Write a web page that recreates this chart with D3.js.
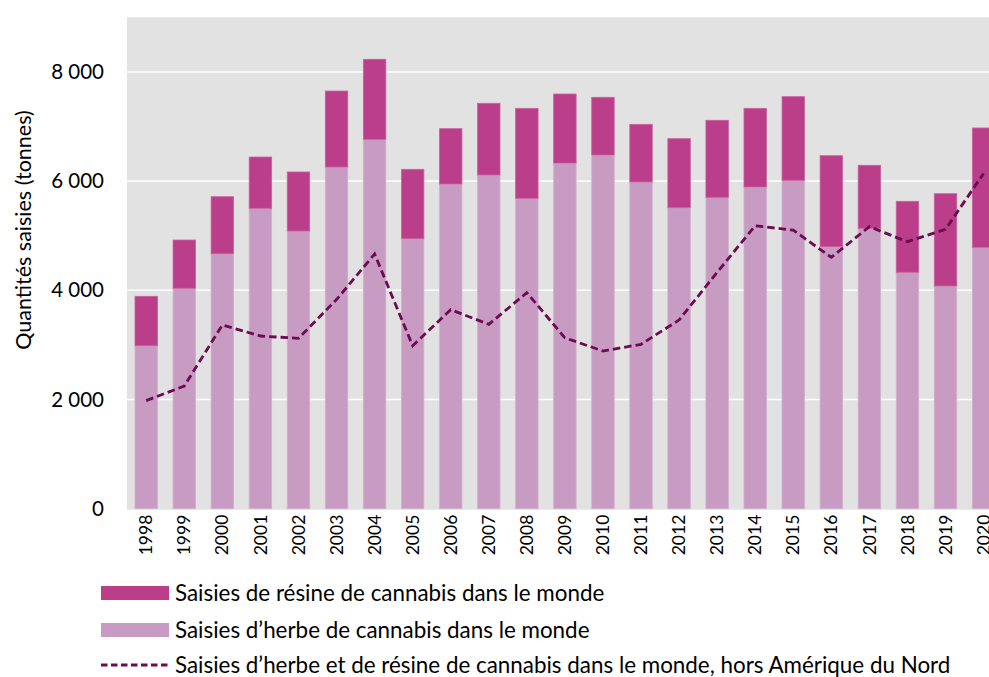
<!DOCTYPE html>
<html>
<head>
<meta charset="utf-8">
<script src="https://cdn.jsdelivr.net/npm/d3@7"></script>
<style>
  body { margin: 0; background: #fff; }
  svg { display: block; font-family: Lato, "Open Sans", sans-serif; }
</style>
</head>
<body>
<svg id="chart" width="989" height="677"></svg>
<script>
var years = ["1998","1999","2000","2001","2002","2003","2004","2005","2006","2007","2008",
  "2009","2010","2011","2012","2013","2014","2015","2016","2017","2018","2019","2020"];
var herbe = [2985, 4037, 4670, 5502, 5086, 6258, 6765, 4945, 5947, 6112, 5685, 6331,
  6478, 5984, 5513, 5703, 5892, 6015, 4799, 5135, 4330, 4079, 4787];
var resine = [905, 884, 1044, 939, 1081, 1392, 1466, 1271, 1013, 1313, 1648, 1264,
  1057, 1056, 1264, 1411, 1441, 1531, 1666, 1154, 1300, 1690, 2186];
var horsAmNord = [1980, 2247, 3365, 3163, 3120, 3830, 4665, 2985, 3645, 3377, 3956, 3130,
  2888, 3011, 3456, 4330, 5183, 5101, 4604, 5165, 4890, 5117, 6140];
var yTicks = [0, 2000, 4000, 6000, 8000];
var legendLabels = [
  "Saisies de résine de cannabis dans le monde",
  "Saisies d’herbe de cannabis dans le monde",
  "Saisies d’herbe et de résine de cannabis dans le monde, hors Amérique du Nord"
];

var colResine = "#bb3e8a", colHerbe = "#c89bc2", colLine = "#6d0a52";

var svg = d3.select("#chart");
var plotLeft = 127, plotTop = 17.3, plotBottom = 508.7;

var x = d3.scaleBand().domain(years).range([plotLeft, 1002.8])
  .paddingInner(0.41).paddingOuter(0.21);
var y = d3.scaleLinear().domain([0, 9000]).range([plotBottom, plotTop]);

var fr = d3.formatLocale({decimal: ",", thousands: "\u00a0", grouping: [3], currency: ["", ""]});
var fmt = fr.format(",d");

// fond du graphique
svg.append("rect").attr("x", plotLeft).attr("y", plotTop)
  .attr("width", 989 - plotLeft).attr("height", plotBottom - plotTop + 1)
  .attr("fill", "#e2e2e2");

// grille
svg.selectAll("line.grid").data(yTicks.slice(1)).enter().append("line")
  .attr("class", "grid")
  .attr("x1", plotLeft).attr("x2", 989)
  .attr("y1", function(d){ return y(d); }).attr("y2", function(d){ return y(d); })
  .attr("stroke", "#fff").attr("stroke-width", 1.5);

// barres herbe
svg.selectAll("rect.herbe").data(years).enter().append("rect")
  .attr("class", "herbe")
  .attr("x", function(d){ return x(d); })
  .attr("width", x.bandwidth())
  .attr("y", function(d, i){ return y(herbe[i]); })
  .attr("height", function(d, i){ return y(0) - y(herbe[i]); })
  .attr("fill", colHerbe).attr("stroke", "#d3b0ce").attr("stroke-width", 0.8);

// barres résine
svg.selectAll("rect.resine").data(years).enter().append("rect")
  .attr("class", "resine")
  .attr("x", function(d){ return x(d); })
  .attr("width", x.bandwidth())
  .attr("y", function(d, i){ return y(herbe[i] + resine[i]); })
  .attr("height", function(d, i){ return y(herbe[i]) - y(herbe[i] + resine[i]); })
  .attr("fill", colResine).attr("stroke", "#c9619f").attr("stroke-width", 0.8);

// ligne hors Amérique du Nord
var line = d3.line()
  .x(function(d, i){ return x(years[i]) + x.bandwidth() / 2; })
  .y(function(d){ return y(d); });
svg.append("path").datum(horsAmNord)
  .attr("d", line)
  .attr("fill", "none").attr("stroke", colLine)
  .attr("stroke-width", 2.8).attr("stroke-dasharray", "7.5,4");

// axe y
var yAxis = d3.axisLeft(y).tickValues(yTicks).tickFormat(fmt).tickSize(0).tickPadding(0);
var gy = svg.append("g").attr("transform", "translate(104,0)").call(yAxis);
gy.select(".domain").remove();
gy.selectAll("text").attr("font-size", 20.5).attr("fill", "#000")
  .attr("font-family", "Lato, sans-serif");

svg.append("text")
  .attr("transform", "translate(31,230) rotate(-90)")
  .attr("text-anchor", "middle")
  .attr("font-size", 21.5)
  .text("Quantités saisies (tonnes)");

// axe x
var xAxis = d3.axisBottom(x).tickSize(0).tickPadding(0);
var gx = svg.append("g").attr("transform", "translate(0," + (plotBottom + 6) + ")").call(xAxis);
gx.select(".domain").remove();
gx.selectAll("text")
  .attr("font-size", 17.5).attr("fill", "#000").attr("font-family", "Lato, sans-serif")
  .attr("text-anchor", "end")
  .attr("transform", "rotate(-90)")
  .attr("x", 0).attr("y", 0)
  .attr("dx", 0).attr("dy", "0.35em");

// légende
var lg = svg.append("g").attr("font-size", 22.4);
var lgY = [593, 630, 665];
lg.append("rect").attr("x", 101).attr("y", lgY[0] - 7).attr("width", 68).attr("height", 14).attr("fill", colResine);
lg.append("rect").attr("x", 101).attr("y", lgY[1] - 7).attr("width", 68).attr("height", 14).attr("fill", colHerbe);
lg.append("line").attr("x1", 101).attr("x2", 169).attr("y1", lgY[2]).attr("y2", lgY[2])
  .attr("stroke", colLine).attr("stroke-width", 2.8).attr("stroke-dasharray", "6.5,3.5");
lg.selectAll("text").data(legendLabels).enter().append("text")
  .attr("x", 175).attr("y", function(d, i){ return lgY[i] + 7.5; })
  .text(function(d){ return d; });
</script>
</body>
</html>
